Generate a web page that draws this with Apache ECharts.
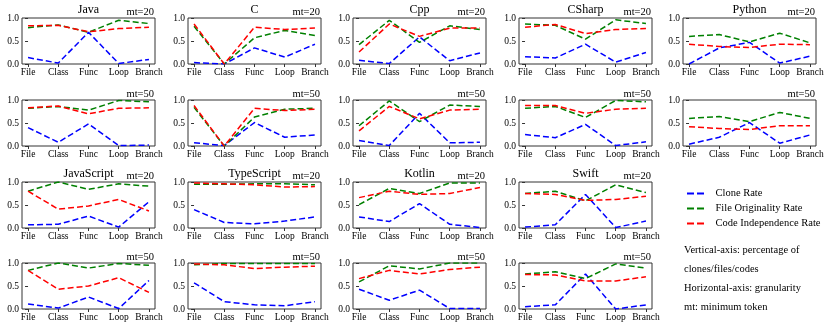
<!DOCTYPE html>
<html>
<head>
<meta charset="utf-8">
<script src="https://cdn.jsdelivr.net/npm/echarts@6/dist/echarts.min.js"></script>
<style>
  html, body { margin: 0; padding: 0; background: #fff; }
  #chart { width: 830px; height: 329px; }
</style>
</head>
<body>
<div id="chart"></div>
<script>
const categories = ["File", "Class", "Func", "Loop", "Branch"];
const seriesNames = ["Clone Rate", "File Originality Rate", "Code Independence Rate"];
const colors = ["#0000ff", "#008000", "#ff0000"];

// each panel: clone rate, file originality rate, code independence rate
const java20 = { clone: [0.14, 0.02, 0.69, 0.01, 0.10], file: [0.79, 0.85, 0.69, 0.95, 0.88], code: [0.83, 0.84, 0.70, 0.77, 0.80] };
const java50 = { clone: [0.40, 0.08, 0.48, 0.01, 0.02], file: [0.82, 0.86, 0.78, 0.99, 0.96], code: [0.83, 0.87, 0.70, 0.82, 0.83] };
const c20 = { clone: [0.03, 0.00, 0.35, 0.15, 0.43], file: [0.82, 0.00, 0.57, 0.73, 0.62], code: [0.87, 0.00, 0.80, 0.75, 0.78] };
const c50 = { clone: [0.07, 0.01, 0.51, 0.19, 0.24], file: [0.84, 0.00, 0.63, 0.80, 0.82], code: [0.88, 0.00, 0.82, 0.77, 0.80] };
const cpp20 = { clone: [0.08, 0.01, 0.59, 0.07, 0.24], file: [0.42, 0.95, 0.47, 0.83, 0.75], code: [0.26, 0.87, 0.60, 0.78, 0.78] };
const cpp50 = { clone: [0.12, 0.01, 0.71, 0.07, 0.08], file: [0.44, 0.98, 0.53, 0.89, 0.86], code: [0.33, 0.86, 0.59, 0.78, 0.80] };
const csharp20 = { clone: [0.16, 0.13, 0.43, 0.04, 0.25], file: [0.87, 0.84, 0.54, 0.96, 0.88], code: [0.80, 0.86, 0.66, 0.75, 0.77] };
const csharp50 = { clone: [0.25, 0.18, 0.47, 0.01, 0.09], file: [0.82, 0.86, 0.62, 0.99, 0.96], code: [0.88, 0.88, 0.71, 0.80, 0.82] };
const python20 = { clone: [0.00, 0.35, 0.47, 0.02, 0.17], file: [0.60, 0.64, 0.48, 0.67, 0.46], code: [0.43, 0.38, 0.36, 0.43, 0.42] };
const python50 = { clone: [0.04, 0.19, 0.51, 0.06, 0.24], file: [0.60, 0.64, 0.53, 0.73, 0.60], code: [0.42, 0.38, 0.36, 0.44, 0.44] };
const js20 = { clone: [0.07, 0.08, 0.26, 0.02, 0.57], file: [0.80, 1.00, 0.84, 0.96, 0.91], code: [0.80, 0.41, 0.48, 0.62, 0.37] };
const js50 = { clone: [0.11, 0.02, 0.26, 0.01, 0.62], file: [0.84, 1.00, 0.89, 0.99, 0.95], code: [0.84, 0.43, 0.50, 0.68, 0.36] };
const ts20 = { clone: [0.40, 0.12, 0.09, 0.15, 0.24], file: [0.95, 0.95, 0.96, 0.96, 0.94], code: [0.98, 0.96, 0.94, 0.89, 0.90] };
const ts50 = { clone: [0.57, 0.16, 0.09, 0.07, 0.16], file: [0.96, 0.99, 0.99, 0.99, 0.99], code: [0.98, 0.96, 0.88, 0.91, 0.93] };
const kotlin20 = { clone: [0.24, 0.14, 0.53, 0.08, 0.01], file: [0.51, 0.86, 0.75, 0.98, 0.98], code: [0.66, 0.80, 0.73, 0.75, 0.88] };
const kotlin50 = { clone: [0.43, 0.19, 0.41, 0.01, 0.01], file: [0.59, 0.94, 0.87, 1.00, 1.00], code: [0.66, 0.84, 0.76, 0.86, 0.91] };
const swift20 = { clone: [0.02, 0.07, 0.73, 0.01, 0.15], file: [0.75, 0.80, 0.59, 0.94, 0.77], code: [0.75, 0.73, 0.60, 0.62, 0.69] };
const swift50 = { clone: [0.05, 0.09, 0.76, 0.00, 0.09], file: [0.76, 0.81, 0.66, 0.98, 0.89], code: [0.75, 0.74, 0.61, 0.61, 0.70] };

const notes = [
  "Vertical-axis: percentage of",
  "clones/files/codes",
  "Horizontal-axis: granularity",
  "mt: minimum token"
];

const panels = [
  { row: 0, col: 0, title: "Java", mt: "mt=20", d: java20 },
  { row: 0, col: 1, title: "C", mt: "mt=20", d: c20 },
  { row: 0, col: 2, title: "Cpp", mt: "mt=20", d: cpp20 },
  { row: 0, col: 3, title: "CSharp", mt: "mt=20", d: csharp20 },
  { row: 0, col: 4, title: "Python", mt: "mt=20", d: python20 },
  { row: 1, col: 0, title: "", mt: "mt=50", d: java50 },
  { row: 1, col: 1, title: "", mt: "mt=50", d: c50 },
  { row: 1, col: 2, title: "", mt: "mt=50", d: cpp50 },
  { row: 1, col: 3, title: "", mt: "mt=50", d: csharp50 },
  { row: 1, col: 4, title: "", mt: "mt=50", d: python50 },
  { row: 2, col: 0, title: "JavaScript", mt: "mt=20", d: js20 },
  { row: 2, col: 1, title: "TypeScript", mt: "mt=20", d: ts20 },
  { row: 2, col: 2, title: "Kotlin", mt: "mt=20", d: kotlin20 },
  { row: 2, col: 3, title: "Swift", mt: "mt=20", d: swift20 },
  { row: 3, col: 0, title: "", mt: "mt=50", d: js50 },
  { row: 3, col: 1, title: "", mt: "mt=50", d: ts50 },
  { row: 3, col: 2, title: "", mt: "mt=50", d: kotlin50 },
  { row: 3, col: 3, title: "", mt: "mt=50", d: swift50 }
];

const FONT = "Liberation Serif";
const colLeft = [22, 188, 353, 519, 683];
const rowTop = [18, 100, 182, 263];
const W = 133, H = 46;

const grids = [], xAxes = [], yAxes = [], series = [], graphics = [];

panels.forEach((p, i) => {
  const left = colLeft[p.col], top = rowTop[p.row];
  grids.push({
    left: left, top: top, width: W, height: H,
    show: true, borderColor: "#333", borderWidth: 1, backgroundColor: "transparent"
  });
  xAxes.push({
    gridIndex: i, type: "value", min: -0.2, max: 4.2,
    axisLine: { show: false }, splitLine: { show: false },
    axisTick: { show: true, customValues: [0, 1, 2, 3, 4], length: 3, lineStyle: { color: "#333" } },
    axisLabel: {
      customValues: [0, 1, 2, 3, 4], formatter: v => categories[v],
      fontFamily: FONT, fontSize: 9.5, color: "#000", margin: 3
    }
  });
  yAxes.push({
    gridIndex: i, type: "value", min: 0, max: 1, interval: 0.5,
    axisLine: { show: false }, splitLine: { show: false },
    axisTick: { show: true, length: 3, lineStyle: { color: "#333" } },
    axisLabel: { formatter: v => v.toFixed(1), fontFamily: FONT, fontSize: 9.5, color: "#000", margin: 3 }
  });
  [p.d.clone, p.d.file, p.d.code].forEach((vals, k) => {
    series.push({
      type: "line", name: seriesNames[k], xAxisIndex: i, yAxisIndex: i,
      data: vals.map((v, j) => [j, v]),
      symbol: "none", silent: true,
      lineStyle: { color: colors[k], width: 1.5, type: [6, 3] },
      itemStyle: { color: colors[k] }
    });
  });
  if (p.title) {
    graphics.push({
      type: "text", x: left + W / 2, y: top - 8,
      style: { text: p.title, font: "12px " + FONT, fill: "#000", align: "center", verticalAlign: "middle" }
    });
  }
  graphics.push({
    type: "text", x: left + W - 1, y: top - 6,
    style: { text: p.mt, font: "10.5px " + FONT, fill: "#000", align: "right", verticalAlign: "middle" }
  });
});

notes.forEach((t, i) => {
  graphics.push({
    type: "text", x: 684, y: 250 + i * 19,
    style: { text: t, font: "10.5px " + FONT, fill: "#000", align: "left", verticalAlign: "middle" }
  });
});

const dashIcon = "path://M0,0h7v2h-7z M10,0h7v2h-7z";

const chart = echarts.init(document.getElementById("chart"));
chart.setOption({
  animation: false,
  grid: grids,
  xAxis: xAxes,
  yAxis: yAxes,
  series: series,
  legend: {
    data: seriesNames.map(n => ({ name: n, icon: dashIcon })),
    orient: "vertical", left: 687, top: 188, padding: 0,
    itemWidth: 18, itemHeight: 2, itemGap: 4,
    textStyle: { fontFamily: FONT, fontSize: 10.5, color: "#000", padding: [0, 0, 0, 6] }
  },
  graphic: graphics
});
</script>
</body>
</html>
